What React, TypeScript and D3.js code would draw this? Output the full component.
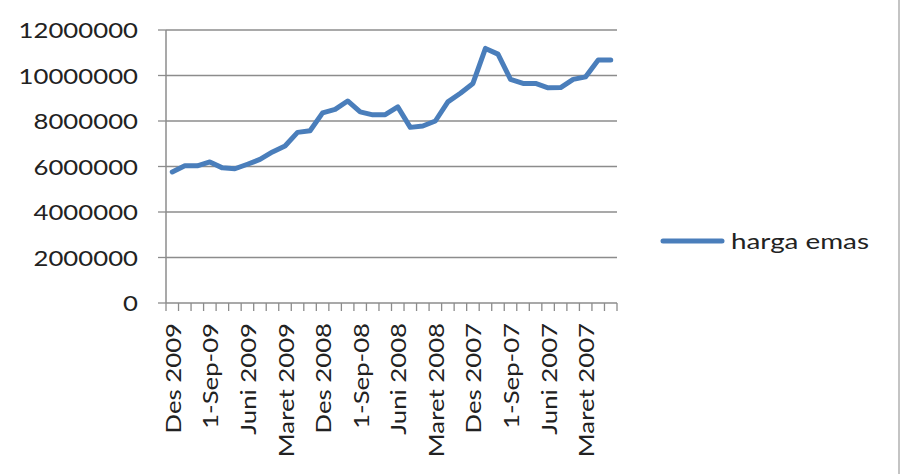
import { useEffect, useRef } from "react";
import * as d3 from "d3";

const months = [
  "Des 2009", "Nov 2009", "Okt 2009", "1-Sep-09", "Agust 2009", "Juli 2009",
  "Juni 2009", "Mei 2009", "April 2009", "Maret 2009", "Feb 2009", "Jan 2009",
  "Des 2008", "Nov 2008", "Okt 2008", "1-Sep-08", "Agust 2008", "Juli 2008",
  "Juni 2008", "Mei 2008", "April 2008", "Maret 2008", "Feb 2008", "Jan 2008",
  "Des 2007", "Nov 2007", "Okt 2007", "1-Sep-07", "Agust 2007", "Juli 2007",
  "Juni 2007", "Mei 2007", "April 2007", "Maret 2007", "Feb 2007", "Jan 2007",
];

const hargaEmas = [
  5760000, 6030000, 6030000, 6200000, 5940000, 5900000,
  6100000, 6310000, 6640000, 6900000, 7500000, 7570000,
  8360000, 8510000, 8880000, 8400000, 8270000, 8280000,
  8620000, 7720000, 7780000, 8000000, 8840000, 9220000,
  9650000, 11190000, 10940000, 9830000, 9650000, 9650000,
  9460000, 9470000, 9830000, 9940000, 10680000, 10680000,
];

const yTicks = [0, 2000000, 4000000, 6000000, 8000000, 10000000, 12000000];

const seriesName = "harga emas";

export default function App() {
  const svgRef = useRef<SVGSVGElement | null>(null);

  useEffect(() => {
    if (!svgRef.current) return;
    const svg = d3.select(svgRef.current);
    svg.selectAll("*").remove();

    const width = 902;
    const height = 474;
    const left = 166;
    const right = 617;
    const top = 30;
    const bottom = 303;
    const font = "Lato, 'Open Sans', sans-serif";
    const stretch = 1.17;
    const grey = "#8c8c8c";

    svg.attr("width", width).attr("height", height);
    svg.append("rect").attr("width", width).attr("height", height).attr("fill", "#fff");

    // border on the right edge
    svg.append("line")
      .attr("x1", 899).attr("x2", 899)
      .attr("y1", 0).attr("y2", height)
      .attr("stroke", "#c4c4c4")
      .attr("stroke-width", 2);

    const x = d3.scaleBand<string>().domain(months).range([left, right]);
    const y = d3.scaleLinear().domain([0, 12000000]).range([bottom, top]);

    // gridlines
    svg.append("g")
      .selectAll("line")
      .data(yTicks.filter((d) => d > 0))
      .enter()
      .append("line")
      .attr("x1", left).attr("x2", right)
      .attr("y1", (d) => y(d)).attr("y2", (d) => y(d))
      .attr("stroke", grey)
      .attr("stroke-width", 1.3);

    // y axis
    svg.append("line")
      .attr("x1", left).attr("x2", left)
      .attr("y1", top).attr("y2", bottom)
      .attr("stroke", grey).attr("stroke-width", 1.5);

    svg.append("g")
      .selectAll("line")
      .data(yTicks)
      .enter()
      .append("line")
      .attr("x1", left - 8).attr("x2", left)
      .attr("y1", (d) => y(d)).attr("y2", (d) => y(d))
      .attr("stroke", grey).attr("stroke-width", 1.3);

    svg.append("g")
      .selectAll("text")
      .data(yTicks)
      .enter()
      .append("text")
      .attr("transform", (d) => `translate(138, ${y(d) + 8}) scale(${stretch}, 1)`)
      .attr("text-anchor", "end")
      .style("font-family", font)
      .style("font-size", "22px")
      .attr("fill", "#222")
      .text((d) => String(d));

    // x axis
    svg.append("line")
      .attr("x1", left).attr("x2", right)
      .attr("y1", bottom).attr("y2", bottom)
      .attr("stroke", grey).attr("stroke-width", 1.5);

    const edges = months.map((m) => x(m)!).concat([right]);
    svg.append("g")
      .selectAll("line")
      .data(edges)
      .enter()
      .append("line")
      .attr("x1", (d) => d).attr("x2", (d) => d)
      .attr("y1", bottom).attr("y2", bottom + 8)
      .attr("stroke", grey).attr("stroke-width", 1.3);

    svg.append("g")
      .selectAll("text")
      .data(months.filter((_, i) => i % 3 === 0))
      .enter()
      .append("text")
      .attr("transform", (d) =>
        `translate(${x(d)! + x.bandwidth() / 2 + 8.5}, 323) rotate(-90) scale(${stretch}, 1)`)
      .attr("text-anchor", "end")
      .style("font-family", font)
      .style("font-size", "22px")
      .attr("fill", "#222")
      .text((d) => d);

    // series line
    const line = d3.line<number>()
      .x((_, i) => x(months[i])! + x.bandwidth() / 2)
      .y((d) => y(d));

    svg.append("path")
      .datum(hargaEmas)
      .attr("d", line)
      .attr("fill", "none")
      .attr("stroke", "#4a7ebb")
      .attr("stroke-width", 5)
      .attr("stroke-linejoin", "round")
      .attr("stroke-linecap", "round");

    // legend
    svg.append("line")
      .attr("x1", 663).attr("x2", 722)
      .attr("y1", 241).attr("y2", 241)
      .attr("stroke", "#4a7ebb")
      .attr("stroke-width", 5)
      .attr("stroke-linecap", "round");

    svg.append("text")
      .attr("transform", "translate(731, 249)")
      .attr("textLength", 138)
      .attr("lengthAdjust", "spacingAndGlyphs")
      .style("font-family", font)
      .style("font-size", "22px")
      .attr("fill", "#222")
      .text(seriesName);
  }, []);

  return (
    <div style={{ position: "absolute", left: 0, top: 0 }}>
      <svg ref={svgRef} style={{ display: "block" }} />
    </div>
  );
}
